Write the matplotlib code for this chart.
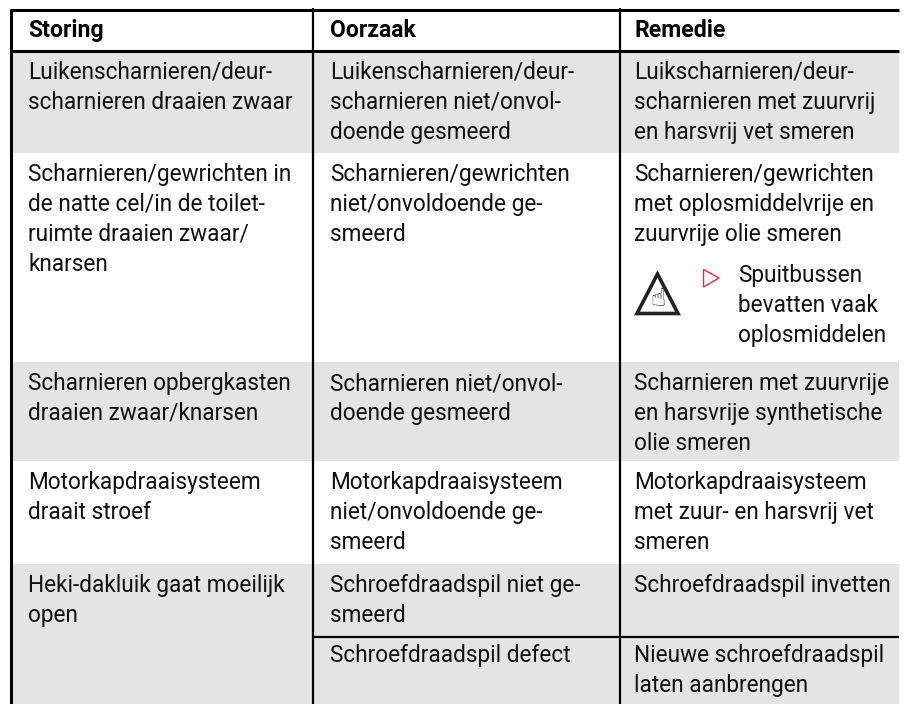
import matplotlib
matplotlib.use("Agg")
import matplotlib.pyplot as plt
from matplotlib.patches import Rectangle, Polygon

headers = ["Storing", "Oorzaak", "Remedie"]
col_x = [11, 313, 620, 899]
text_x = [28, 330, 634]
row_y = [51, 153, 362, 461, 564, 704]
row_fill = ["#e4e4e4", "#ffffff", "#e4e4e4", "#ffffff", "#e4e4e4"]
storing = [
    "Luikenscharnieren/deur-\nscharnieren draaien zwaar",
    "Scharnieren/gewrichten in\nde natte cel/in de toilet-\nruimte draaien zwaar/\nknarsen",
    "Scharnieren opbergkasten\ndraaien zwaar/knarsen",
    "Motorkapdraaisysteem\ndraait stroef",
    "Heki-dakluik gaat moeilijk\nopen",
]
oorzaak = [
    "Luikenscharnieren/deur-\nscharnieren niet/onvol-\ndoende gesmeerd",
    "Scharnieren/gewrichten\nniet/onvoldoende ge-\nsmeerd",
    "Scharnieren niet/onvol-\ndoende gesmeerd",
    "Motorkapdraaisysteem\nniet/onvoldoende ge-\nsmeerd",
    "Schroefdraadspil niet ge-\nsmeerd",
]
remedie = [
    "Luikscharnieren/deur-\nscharnieren met zuurvrij\nen harsvrij vet smeren",
    "Scharnieren/gewrichten\nmet oplosmiddelvrije en\nzuurvrije olie smeren",
    "Scharnieren met zuurvrije\nen harsvrije synthetische\nolie smeren",
    "Motorkapdraaisysteem\nmet zuur- en harsvrij vet\nsmeren",
    "Schroefdraadspil invetten",
]
split_y = 637
split_oorzaak = "Schroefdraadspil defect"
split_remedie = "Nieuwe schroefdraadspil\nlaten aanbrengen"
note = "Spuitbussen\nbevatten vaak\noplosmiddelen"

plt.rcParams["font.family"] = ["Roboto", "DejaVu Sans"]
FS = 16.3
DY = 29.9
fig = plt.figure(figsize=(9.1, 7.04), dpi=100)
ax = fig.add_axes([0, 0, 1, 1])
ax.set_xlim(0, 910)
ax.set_ylim(704, 0)
ax.axis("off")

for i, c in enumerate(row_fill):
    ax.add_patch(Rectangle((col_x[0], row_y[i]), col_x[3] - col_x[0], row_y[i + 1] - row_y[i], fc=c, ec="none"))

def put(x, y, s):
    for k, line in enumerate(s.split("\n")):
        ax.text(x, y + k * DY, line, fontsize=FS, va="baseline", ha="left", color="#111111")

for x, h in zip(text_x, headers):
    ax.text(x, 37, h, fontsize=16.6, fontweight="bold", va="baseline", ha="left", color="#000000")

for c, col in enumerate([storing, oorzaak, remedie]):
    for r, s in enumerate(col):
        put(text_x[c], row_y[r] + 28, s)
put(text_x[1], split_y + 25, split_oorzaak)
put(text_x[2], split_y + 25, split_remedie)
put(738, 282, note)

# red arrow and warning triangle
ax.add_patch(Polygon([(703.5, 269.5), (703.5, 287), (719, 278)], closed=True, fc="none", ec="#e8284c", lw=1.0))
ax.add_patch(Polygon([(637, 313.5), (678, 313.5), (657.5, 274)], closed=True, fc="white", ec="#222222", lw=2.6, joinstyle="miter"))
ax.text(657.5, 299, "☝", fontsize=18, fontweight="bold", ha="center", va="center", color="#222222", family=["DejaVu Sans"])

black = "#000000"
ax.plot([col_x[0] - 1, 899], [10, 10], color=black, lw=2.2, solid_capstyle="butt")
ax.plot([col_x[0] - 1, 899], [row_y[0], row_y[0]], color=black, lw=2.2, solid_capstyle="butt")
ax.plot([col_x[1], 899], [split_y, split_y], color=black, lw=1.6, solid_capstyle="butt")
ax.plot([col_x[0], col_x[0]], [9, 704], color=black, lw=2.2, solid_capstyle="butt")
ax.plot([col_x[1], col_x[1]], [8, 704], color=black, lw=1.6, solid_capstyle="butt")
ax.plot([col_x[2], col_x[2]], [8, 704], color=black, lw=1.6, solid_capstyle="butt")

fig.savefig("out.png", dpi=100)
